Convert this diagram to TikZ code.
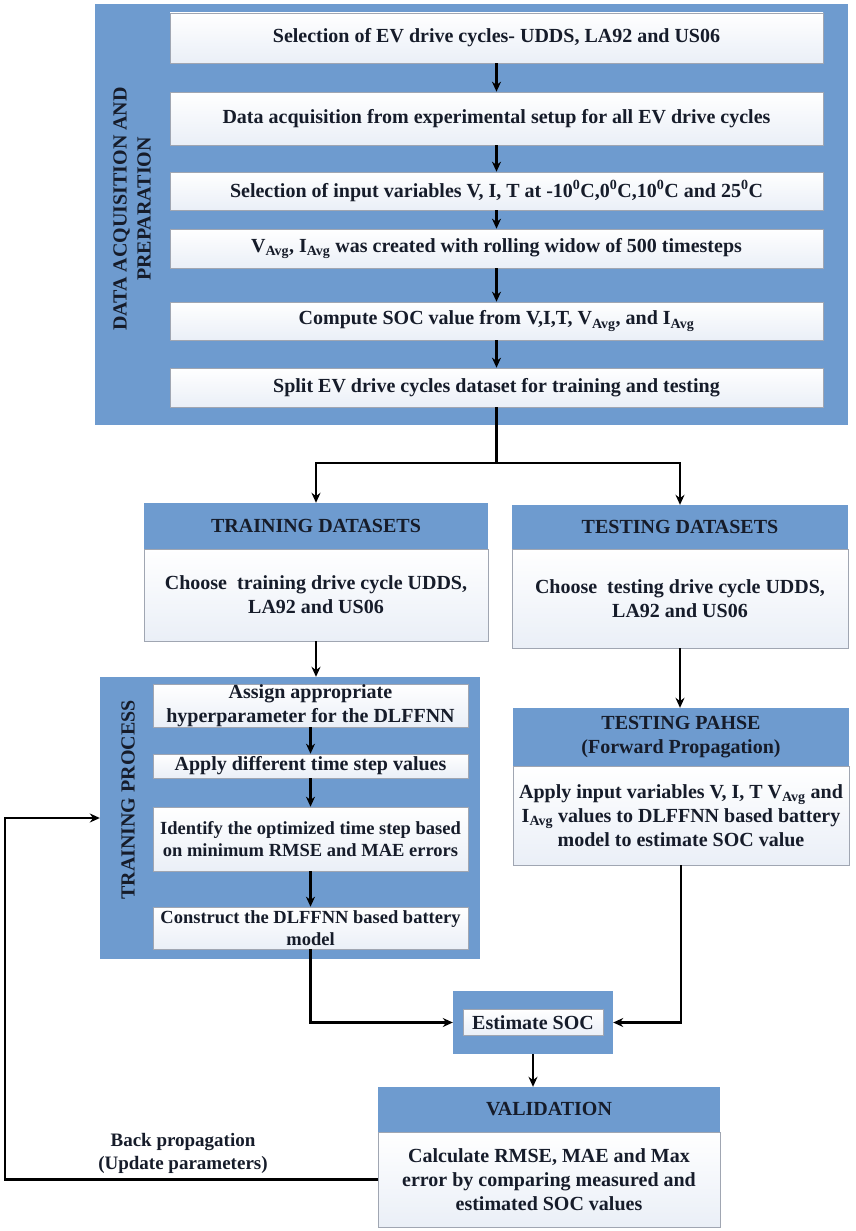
\documentclass[tikz,border=0pt]{standalone}
\usepackage{fontspec}
\setmainfont{Liberation Serif}
\usetikzlibrary{arrows.meta}
\definecolor{panelblue}{RGB}{110,155,207}
\definecolor{inkdark}{RGB}{22,28,42}
\definecolor{boxedge}{RGB}{160,166,178}
\definecolor{boxshade}{RGB}{234,239,247}
\begin{document}
\begin{tikzpicture}[x=1pt,y=1pt,
  every node/.style={font=\fontsize{20}{24}\selectfont\bfseries,text=inkdark,align=center,inner sep=0pt},
  panel/.style={fill=panelblue},
  wbox/.style={draw=boxedge,line width=0.6pt,top color=white,bottom color=boxshade},
  small/.style={font=\fontsize{18.5}{22}\selectfont\bfseries},
  arr/.style={-{Stealth[length=10pt,width=9pt]},line width=2.3pt}]
  \useasboundingbox (0,0) rectangle (855,-1231);

  % data acquisition and preparation
  \node[panel,minimum width=753,minimum height=421] (dap) at (471.5,-214.5) {};
  \node[rotate=90] (daplab) at (132,-209) {DATA ACQUISITION AND\\PREPARATION};
  \node[wbox,minimum width=653,minimum height=50] (b1) at (496.5,-38) {Selection of EV drive cycles- UDDS, LA92 and US06};
  \node[wbox,minimum width=653,minimum height=53] (b2) at (496.5,-118.5) {Data acquisition from experimental setup for all EV drive cycles};
  \node[wbox,minimum width=653,minimum height=38] (b3) at (496.5,-191) {Selection of input variables V, I, T at -10\textsuperscript{0}C,0\textsuperscript{0}C,10\textsuperscript{0}C and 25\textsuperscript{0}C};
  \node[wbox,minimum width=653,minimum height=39] (b4) at (496.5,-248.5) {V\textsubscript{Avg}, I\textsubscript{Avg} was created with rolling widow of 500 timesteps};
  \node[wbox,minimum width=653,minimum height=38] (b5) at (496.5,-321) {Compute SOC value from V,I,T, V\textsubscript{Avg}, and I\textsubscript{Avg}};
  \node[wbox,minimum width=653,minimum height=39] (b6) at (496.5,-387.5) {Split EV drive cycles dataset for training and testing};
  \foreach \i/\j in {1/2,2/3,3/4,4/5,5/6}{\draw[arr] (b\i) -- (b\j);}

  % datasets
  \node[panel,minimum width=344,minimum height=46] (trh) at (316,-526) {TRAINING DATASETS};
  \node[wbox,minimum width=344,minimum height=92] (trb) at (316,-595) {Choose\ \ training drive cycle UDDS,\\LA92 and US06};
  \node[panel,minimum width=336,minimum height=44] (tsh) at (680,-527) {TESTING DATASETS};
  \node[wbox,minimum width=336,minimum height=99] (tsb) at (680,-598.5) {Choose\ \ testing drive cycle UDDS,\\LA92 and US06};
  \coordinate (fork) at (496.5,-463);
  \draw[line width=2.3pt] (b6.south) -- (fork);
  \draw[arr] (fork) -| (trh.north);
  \draw[arr] (fork) -| (tsh.north);

  % training process
  \node[panel,minimum width=380,minimum height=282] (tp) at (290,-818) {};
  \node[rotate=90] (tplab) at (128,-800) {TRAINING PROCESS};
  \node[wbox,minimum width=315,minimum height=43] (a1) at (310.5,-705.5) {Assign appropriate\\hyperparameter for the DLFFNN};
  \node[wbox,minimum width=315,minimum height=24] (a2) at (310.5,-766) {Apply different time step values};
  \node[wbox,small,minimum width=315,minimum height=64] (a3) at (310.5,-839) {Identify the optimized time step based\\on minimum RMSE and MAE errors};
  \node[wbox,small,minimum width=315,minimum height=42] (a4) at (310.5,-928) {Construct the DLFFNN based battery\\model};
  \foreach \i/\j in {1/2,2/3,3/4}{\draw[arr] (a\i) -- (a\j);}
  \draw[arr] (trb.south) -- (trb.south |- tp.north);

  % testing phase
  \node[panel,minimum width=336,minimum height=58] (tph) at (681,-737) {TESTING PAHSE\\(Forward Propagation)};
  \node[wbox,minimum width=336,minimum height=99] (tpb) at (681,-815.5) {Apply input variables V, I, T V\textsubscript{Avg} and\\I\textsubscript{Avg} values to DLFFNN based battery\\model to estimate SOC value};
  \draw[arr] (tsb.south) -- (tsb.south |- tph.north);

  % estimate and validation
  \node[panel,minimum width=160,minimum height=63] (est) at (533,-1022.5) {};
  \node[wbox,minimum width=140,minimum height=26] (estin) at (est) {Estimate SOC};
  \node[panel,minimum width=342,minimum height=45] (valh) at (549,-1109.5) {VALIDATION};
  \node[wbox,minimum width=342,minimum height=95] (valb) at (549,-1179.5) {Calculate RMSE, MAE and Max\\error by comparing measured and\\estimated SOC values};
  \draw[arr] (a4.south) |- (est.west);
  \draw[arr] (tpb.south) |- (est.east);
  \draw[arr] (est.south) -- (est.south |- valh.north);

  % back propagation
  \coordinate (fb) at (5,-818);
  \draw[arr] (valb.west) -| (fb) -- (tp.west);
  \node[font=\fontsize{19}{23}\selectfont\bfseries] (bplab) at (183,-1153) {Back propagation\\(Update parameters)};
\end{tikzpicture}
\end{document}
